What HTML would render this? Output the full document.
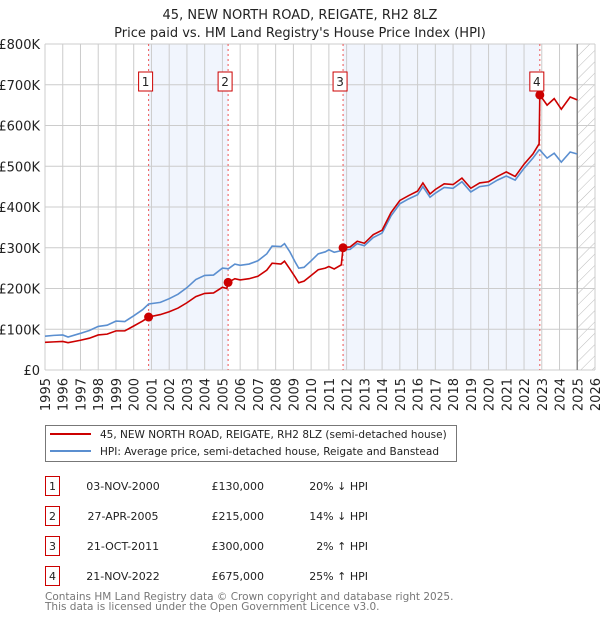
<!DOCTYPE html>
<html><head><meta charset="utf-8">
<style>
body{margin:0;background:#fff;font-family:"Liberation Sans","DejaVu Sans",sans-serif;}
#wrap{position:relative;width:600px;height:620px;overflow:hidden;}
svg text{font-family:"DejaVu Sans","Liberation Sans",sans-serif;}
</style></head>
<body>
<div id="wrap">
<svg id="chart" width="600" height="620"></svg>
</div>
<script>
const years=[1995.0,1995.5,1996.0,1996.3,1997.0,1997.5,1998.0,1998.5,1999.0,1999.5,2000.0,2000.5,2000.84,2001.5,2002.0,2002.5,2003.0,2003.5,2004.0,2004.5,2005.0,2005.25,2005.32,2005.7,2006.0,2006.5,2007.0,2007.5,2007.8,2008.3,2008.5,2008.8,2009.1,2009.3,2009.6,2010.0,2010.4,2010.8,2011.0,2011.3,2011.7,2011.8,2012.2,2012.6,2013.0,2013.5,2014.0,2014.5,2015.0,2015.5,2016.0,2016.3,2016.7,2017.0,2017.5,2018.0,2018.5,2019.0,2019.5,2020.0,2020.5,2021.0,2021.5,2022.0,2022.5,2022.85,2022.89,2023.3,2023.7,2024.1,2024.6,2025.0];
const hpiValues=[83,85,86,81,90,97,107,110,120,119,133,148,162,166,175,186,202,222,232,233,250,249,248,260,257,260,268,285,304,303,310,290,265,250,252,268,285,290,295,289,293,295,296,310,305,325,336,378,408,420,430,450,424,434,448,446,462,437,450,453,466,476,466,495,520,540,540,520,532,510,535,530];
const priceValues=[68,69,70,67,73,78,86,88,96,96,108,120,130,136,143,152,165,180,188,189,203,200,215,224,221,224,230,245,262,260,267,248,228,214,218,232,246,250,254,248,258,300,302,316,311,332,343,386,416,428,439,459,432,443,457,455,471,446,459,462,475,486,475,505,530,555,675,650,666,640,670,663];
const saleYears=[2000.84,2005.32,2011.8,2022.89];
const salePrices=[130,215,300,675];
const yTicks=[0,100,200,300,400,500,600,700,800];
const yTickLabels=["£0","£100K","£200K","£300K","£400K","£500K","£600K","£700K","£800K"];
const xTicks=[1995,1996,1997,1998,1999,2000,2001,2002,2003,2004,2005,2006,2007,2008,2009,2010,2011,2012,2013,2014,2015,2016,2017,2018,2019,2020,2021,2022,2023,2024,2025,2026];
const dataEnd=2025.0;

const svg=document.getElementById('chart');
const NS='http://www.w3.org/2000/svg';
const L=45,R=595,T=44,B=370;
const xS=y=>L+(y-1995)/(2026-1995)*(R-L);
const yS=v=>B-v/800*(B-T);
function mk(tag,attrs,parent){const e=document.createElementNS(NS,tag);for(const k in attrs)e.setAttribute(k,attrs[k]);(parent||svg).appendChild(e);return e;}

let t=mk('text',{x:300,y:19,'text-anchor':'middle','font-size':13,fill:'#222'});t.textContent='45, NEW NORTH ROAD, REIGATE, RH2 8LZ';


t=mk('text',{x:300,y:37,'text-anchor':'middle','font-size':13,fill:'#222'});t.textContent="Price paid vs. HM Land Registry's House Price Index (HPI)";



for(let i=0;i<saleYears.length;i+=2){
  const r=mk('rect',{x:xS(saleYears[i]),y:T,width:xS(saleYears[i+1])-xS(saleYears[i]),height:B-T,fill:'#eef3fc',opacity:0.8});
  
  
}
const defs=mk('defs',{});
const pat=mk('pattern',{id:'hatch',width:8,height:8,patternUnits:'userSpaceOnUse',patternTransform:'rotate(45)'},defs);
mk('line',{x1:0,y1:0,x2:0,y2:8,stroke:'#bbb','stroke-width':1},pat);
const hz=mk('rect',{x:xS(dataEnd),y:T,width:R-xS(dataEnd),height:B-T,fill:'url(#hatch)'});



xTicks.forEach(y=>{const g=mk('line',{x1:xS(y),x2:xS(y),y1:T,y2:B,stroke:'#ccc','stroke-width':1});


const lb=mk('text',{transform:`translate(${xS(y)+5},378) rotate(-90)`,'text-anchor':'end','font-size':13,fill:'#222'});lb.textContent=y;

});
yTicks.forEach((v,i)=>{const g=mk('line',{x1:L,x2:R,y1:yS(v),y2:yS(v),stroke:'#ccc','stroke-width':1});


const lb=mk('text',{x:40,y:yS(v)+5,'text-anchor':'end','font-size':13,fill:'#222'});lb.textContent=yTickLabels[i];

});
const el=mk('line',{x1:xS(dataEnd),x2:xS(dataEnd),y1:T,y2:B,stroke:'#888','stroke-width':1.5});



saleYears.forEach((y,i)=>{
  const ln=mk('line',{x1:xS(y),x2:xS(y),y1:T,y2:B,stroke:'#e55','stroke-width':1,'stroke-dasharray':'2,3'});
  
  
  const bx=mk('rect',{x:xS(y)-10,y:72,width:14,height:19,fill:'#fff',stroke:'#c00','stroke-width':1});
  
  
  const tx=mk('text',{x:xS(y)-3,y:86,'text-anchor':'middle','font-size':12,fill:'#222'});tx.textContent=i+1;
  
  
});

const hp=mk('polyline',{points:years.map((y,i)=>xS(y)+','+yS(hpiValues[i])).join(' '),fill:'none',stroke:'#5b8fd0','stroke-width':1.6});


const pp=mk('polyline',{points:years.map((y,i)=>xS(y)+','+yS(priceValues[i])).join(' '),fill:'none',stroke:'#cc0000','stroke-width':1.6});


saleYears.forEach((y,i)=>{const c=mk('circle',{cx:xS(y),cy:yS(salePrices[i]),r:4.5,fill:'#cc0000'});

});

const lg=mk('g',{});


mk('rect',{x:45.5,y:425.5,width:411,height:36,fill:'#fff',stroke:'#777'},lg);
mk('line',{x1:50,x2:91,y1:434,y2:434,stroke:'#cc0000','stroke-width':2},lg);
mk('line',{x1:50,x2:91,y1:451,y2:451,stroke:'#5b8fd0','stroke-width':2},lg);
t=mk('text',{x:100,y:438,'font-size':10.5,fill:'#222'},lg);t.textContent='45, NEW NORTH ROAD, REIGATE, RH2 8LZ (semi-detached house)';


t=mk('text',{x:100,y:455,'font-size':10.5,fill:'#222'},lg);t.textContent='HPI: Average price, semi-detached house, Reigate and Banstead';



const dates=['03-NOV-2000','27-APR-2005','21-OCT-2011','21-NOV-2022'];
const prices=['£130,000','£215,000','£300,000','£675,000'];
const rel=['20% ↓ HPI','14% ↓ HPI','2% ↑ HPI','25% ↑ HPI'];
dates.forEach((d,i)=>{
  const y0=476+i*30;
  const b=mk('rect',{x:45.5,y:y0+0.5,width:14,height:19,fill:'#fff',stroke:'#c00'});
  
  
  let q=mk('text',{x:52.5,y:y0+14,'text-anchor':'middle','font-size':11,fill:'#222'});q.textContent=i+1;
  
  
  q=mk('text',{x:123,y:y0+14,'text-anchor':'middle','font-size':11,fill:'#222'});q.textContent=d;
  
  
  q=mk('text',{x:264,y:y0+14,'text-anchor':'end','font-size':11,fill:'#222'});q.textContent=prices[i];
  
  
  q=mk('text',{x:368,y:y0+14,'text-anchor':'end','font-size':11,fill:'#222'});q.textContent=rel[i];
  
  
});
t=mk('text',{x:45,y:600,'font-size':10.5,fill:'#777'});t.textContent='Contains HM Land Registry data © Crown copyright and database right 2025.';


t=mk('text',{x:45,y:610,'font-size':10.5,fill:'#777'});t.textContent='This data is licensed under the Open Government Licence v3.0.';


</script>
</body></html>
